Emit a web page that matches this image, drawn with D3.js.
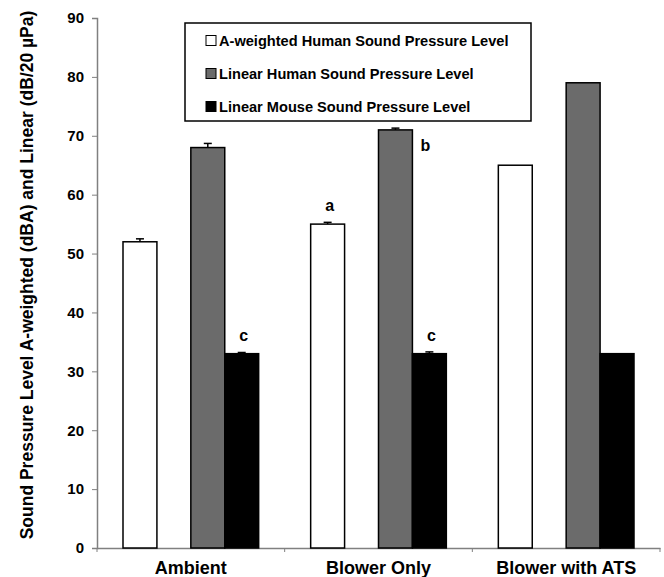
<!DOCTYPE html>
<html>
<head>
<meta charset="utf-8">
<script src="https://cdn.jsdelivr.net/npm/d3@7"></script>
<style>
body { margin: 0; background: #fff; }
text { font-family: "Liberation Sans", Arial, sans-serif; font-weight: bold; }
</style>
</head>
<body>
<div id="chart"></div>
<script>
var categories = ["Ambient", "Blower Only", "Blower with ATS"]
var seriesNames = ["A-weighted Human Sound Pressure Level", "Linear Human Sound Pressure Level", "Linear Mouse Sound Pressure Level"]
var seriesColors = ["#ffffff", "#6b6b6b", "#000000"]
var aWeighted = [52, 55, 65]
var linearHuman = [68, 71, 79]
var linearMouse = [33, 33, 33]
var aWeightedErr = [0.5, 0.3, 0]
var linearHumanErr = [0.7, 0.3, 0]
var linearMouseErr = [0.2, 0.3, 0]
var yTicks = [0, 10, 20, 30, 40, 50, 60, 70, 80, 90]
// significance letters: [category, series, label]
var letters = [
    ["Ambient", 2, "c"],
    ["Blower Only", 0, "a"],
    ["Blower Only", 1, "b"],
    ["Blower Only", 2, "c"]
]

var width = 664, height = 577
var margin = { top: 18, right: 4, bottom: 29, left: 97 }

var svg = d3.select("#chart").append("svg")
    .attr("width", width)
    .attr("height", height)

var x0 = d3.scaleBand()
    .domain(categories)
    .range([margin.left, width - margin.right])

// 4 slots per group, the 2nd one stays empty
var slots = [0, 2, 3]
var x1 = d3.scaleBand()
    .domain([0, 1, 2, 3])
    .range([26, x0.bandwidth() - 26])

var y = d3.scaleLinear()
    .domain([0, 90])
    .range([height - margin.bottom, margin.top])

var values = [aWeighted, linearHuman, linearMouse]
var errs = [aWeightedErr, linearHumanErr, linearMouseErr]

var bars = []
categories.forEach(function (c, i) {
    values.forEach(function (v, s) {
        bars.push({ cat: c, s: s, value: v[i], err: errs[s][i] })
    })
})
var barX = d => x0(d.cat) + x1(slots[d.s])

// axes
var yAxis = svg.append("g")
    .attr("transform", "translate(" + margin.left + ",0)")
    .call(d3.axisLeft(y).tickValues(yTicks).tickSize(5).tickPadding(8))
yAxis.select(".domain").attr("stroke", "#808080").attr("stroke-width", 1.5)
yAxis.selectAll(".tick line").attr("stroke", "#808080")
yAxis.selectAll(".tick text").style("font-size", "15px").attr("fill", "#000")

var xAxis = svg.append("g")
    .attr("transform", "translate(0," + y(0) + ")")
    .call(d3.axisBottom(x0).tickSize(0).tickPadding(13))
xAxis.select(".domain").attr("stroke", "#808080").attr("stroke-width", 1.5)
xAxis.selectAll(".tick text").style("font-size", "18px").attr("fill", "#000")

// tick marks between categories
svg.append("g").selectAll("line")
    .data(d3.range(categories.length + 1))
    .enter()
    .append("line")
    .attr("x1", i => margin.left + x0.step() * i)
    .attr("x2", i => margin.left + x0.step() * i)
    .attr("y1", y(0))
    .attr("y2", y(0) + 4)
    .attr("stroke", "#808080")

// bars
svg.append("g").selectAll("rect")
    .data(bars)
    .enter()
    .append("rect")
    .attr("x", barX)
    .attr("y", d => y(d.value))
    .attr("width", x1.bandwidth())
    .attr("height", d => y(0) - y(d.value))
    .attr("fill", d => seriesColors[d.s])
    .attr("stroke", "#000")
    .attr("stroke-width", 1.5)

// error bars (upper only)
var eb = svg.append("g").selectAll("g")
    .data(bars.filter(d => d.err > 0))
    .enter()
    .append("g")
eb.append("line")
    .attr("x1", d => barX(d) + x1.bandwidth() / 2)
    .attr("x2", d => barX(d) + x1.bandwidth() / 2)
    .attr("y1", d => y(d.value))
    .attr("y2", d => y(d.value + d.err))
    .attr("stroke", "#000")
    .attr("stroke-width", 1.5)
eb.append("line")
    .attr("x1", d => barX(d) + x1.bandwidth() / 2 - 4)
    .attr("x2", d => barX(d) + x1.bandwidth() / 2 + 4)
    .attr("y1", d => y(d.value + d.err))
    .attr("y2", d => y(d.value + d.err))
    .attr("stroke", "#000")
    .attr("stroke-width", 1.5)

// letters
svg.append("g").selectAll("text")
    .data(letters)
    .enter()
    .append("text")
    .attr("x", function (d) {
        var cx = x0(d[0]) + x1(slots[d[1]]) + x1.bandwidth() / 2
        return d[2] == "b" ? cx + 30 : cx + 2
    })
    .attr("y", function (d) {
        var i = categories.indexOf(d[0])
        var v = values[d[1]][i]
        return d[2] == "b" ? y(v) + 21 : y(v) - 13
    })
    .attr("text-anchor", "middle")
    .style("font-size", "16px")
    .text(d => d[2])

// legend
var legend = svg.append("g").attr("transform", "translate(185,23)")
legend.append("rect")
    .attr("width", 346)
    .attr("height", 98)
    .attr("fill", "#fff")
    .attr("stroke", "#000")
    .attr("stroke-width", 1.5)
var items = legend.selectAll(".item")
    .data(seriesNames)
    .enter()
    .append("g")
    .attr("transform", (d, i) => "translate(21," + (18 + i * 33) + ")")
items.append("rect")
    .attr("y", -5.5)
    .attr("width", 10)
    .attr("height", 10)
    .attr("fill", (d, i) => seriesColors[i])
    .attr("stroke", "#000")
items.append("text")
    .attr("x", 13)
    .attr("y", 5)
    .style("font-size", "14.6px")
    .text(d => d)

// y label
svg.append("text")
    .attr("transform", "translate(33," + (y(45) - 8) + ") rotate(-90)")
    .attr("text-anchor", "middle")
    .style("font-size", "17.5px")
    .text("Sound Pressure Level A-weighted (dBA) and Linear (dB/20 µPa)")
</script>
</body>
</html>
